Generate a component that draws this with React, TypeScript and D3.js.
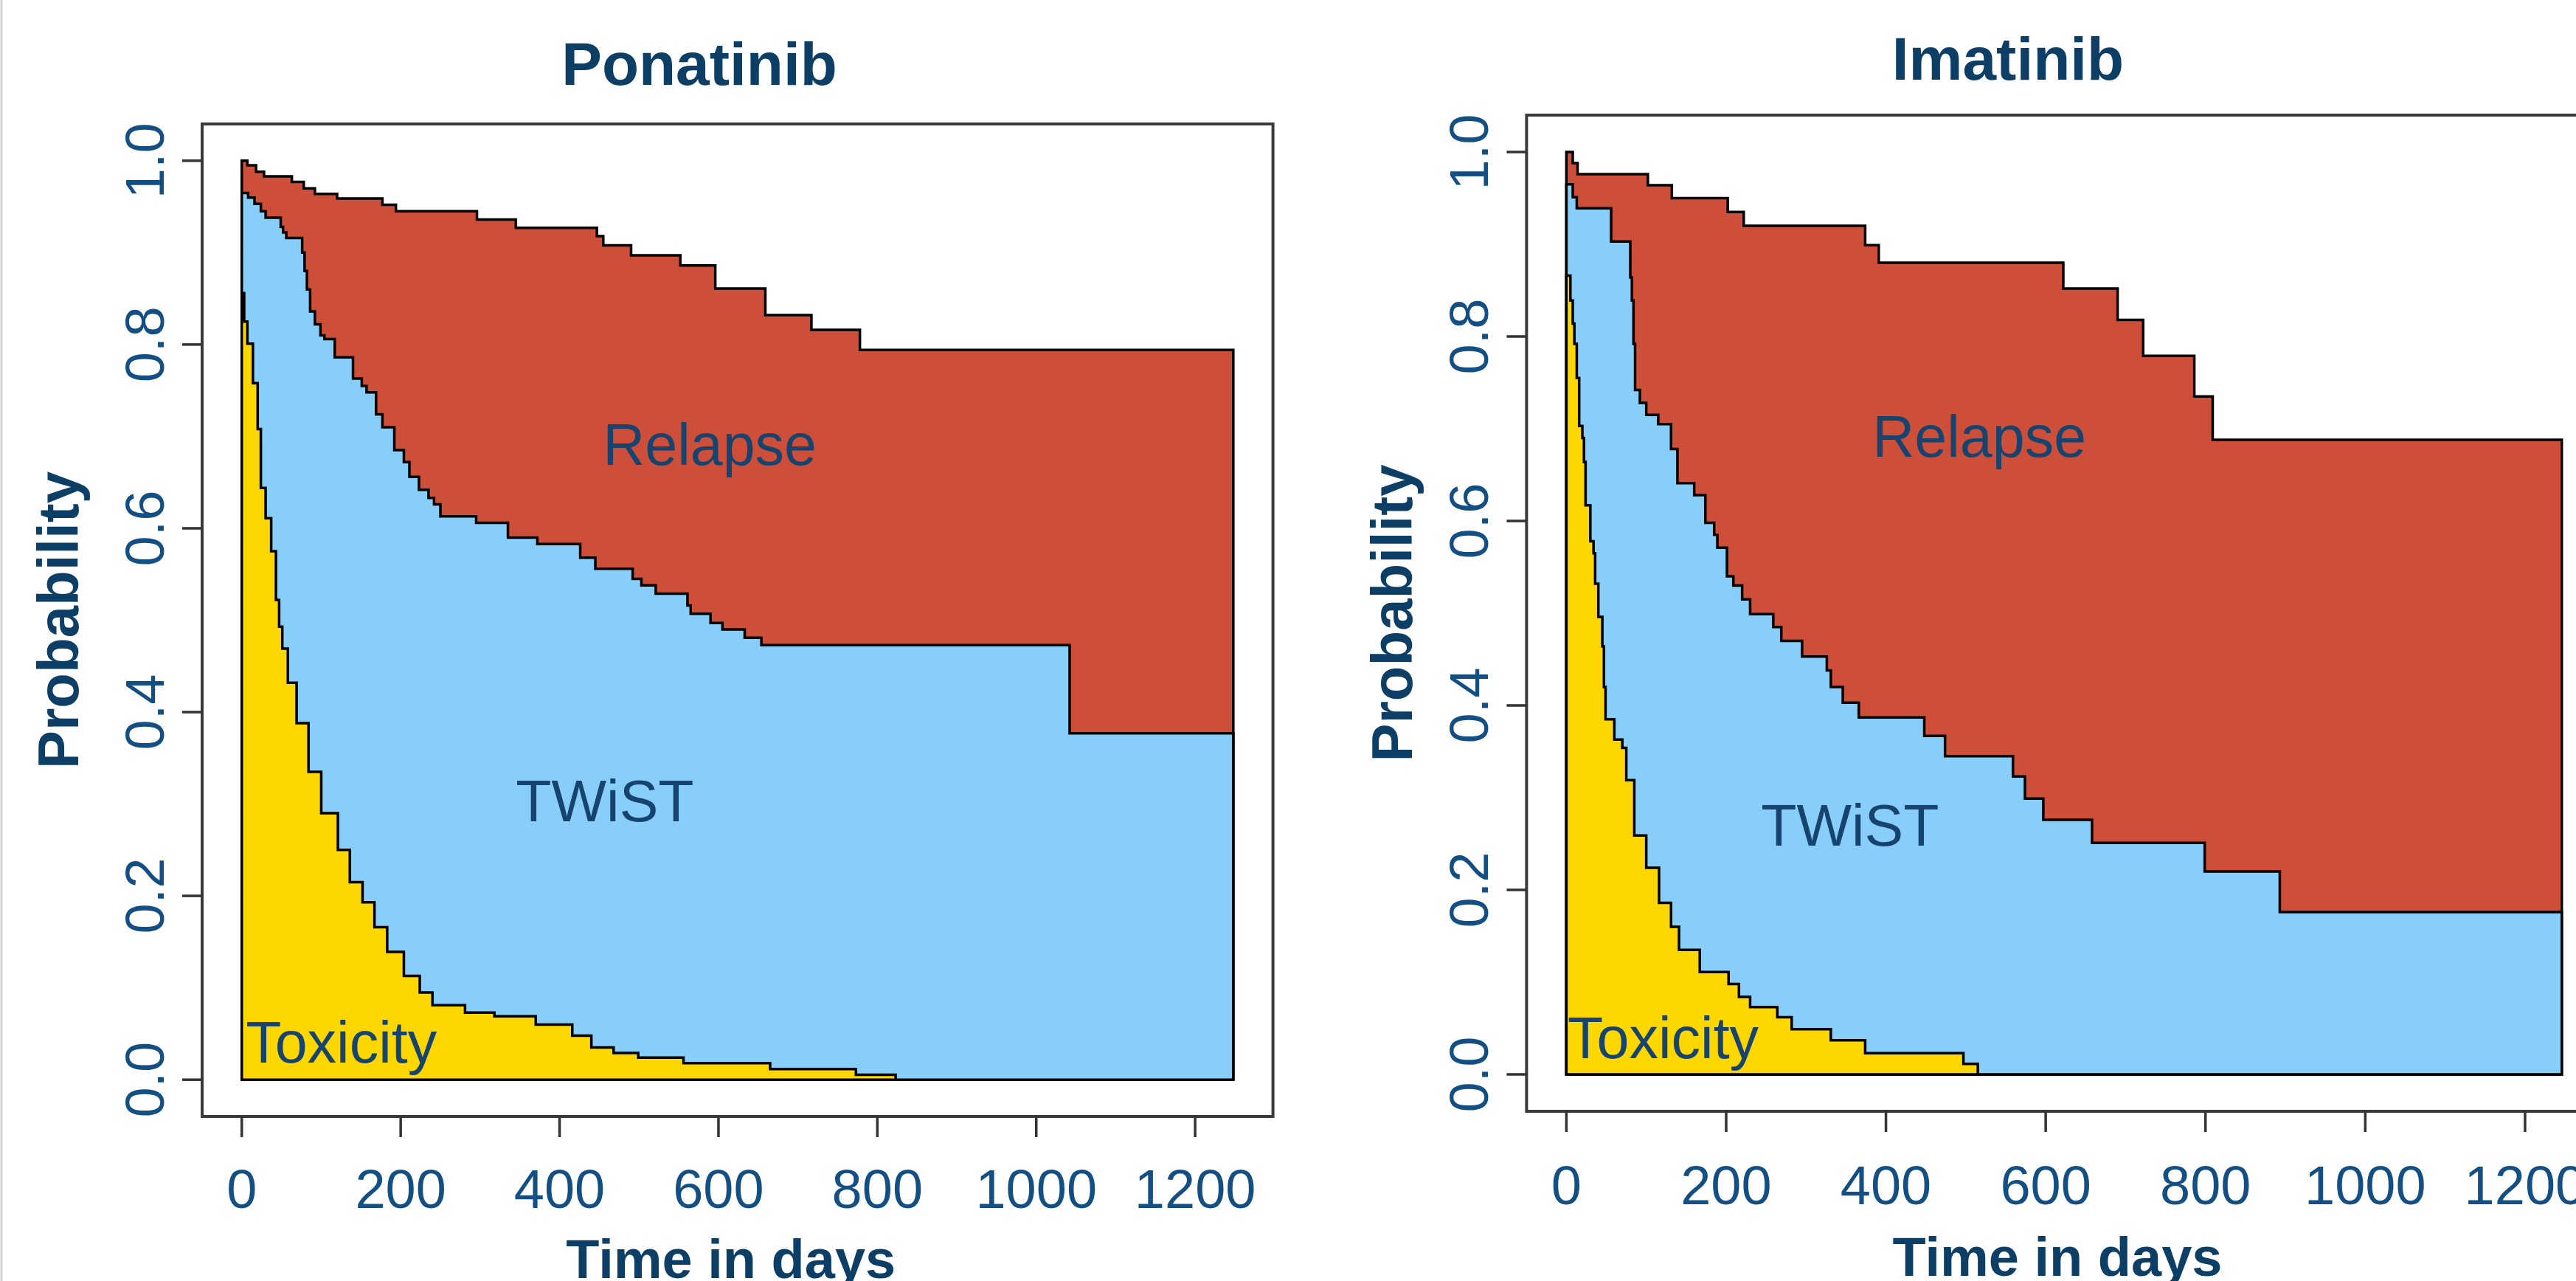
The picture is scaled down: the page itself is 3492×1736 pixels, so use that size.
import { useEffect, useRef } from "react";
import * as d3 from "d3";

type Pt = [number, number];

// axis ticks
const timeTicks = [0, 200, 400, 600, 800, 1000, 1200];
const probTicks = [0, 0.2, 0.4, 0.6, 0.8, 1.0];

// Ponatinib: upper curve (top of Relapse), TWiST boundary, Toxicity boundary
const ponatinibOverall: Pt[] = [
    [0, 1.0], [7, 0.995], [18, 0.988], [28, 0.983], [63, 0.977], [78, 0.97],
    [92, 0.964], [120, 0.959], [177, 0.952], [194, 0.945], [296, 0.936],
    [345, 0.927], [447, 0.918], [455, 0.908], [490, 0.897], [552, 0.886],
    [596, 0.861], [659, 0.832], [717, 0.816], [778, 0.794], [1248, 0.794],
];
const ponatinibTwist: Pt[] = [
    [0, 0.965], [8, 0.96], [16, 0.953], [24, 0.945], [30, 0.938], [49, 0.928],
    [52, 0.922], [56, 0.916], [76, 0.9], [79, 0.88], [82, 0.86], [86, 0.836],
    [92, 0.822], [99, 0.81], [104, 0.806], [117, 0.786], [140, 0.763],
    [151, 0.755], [157, 0.748], [169, 0.724], [177, 0.71], [192, 0.685],
    [204, 0.672], [211, 0.656], [223, 0.642], [235, 0.633], [242, 0.626],
    [250, 0.613], [295, 0.606], [335, 0.59], [372, 0.583], [426, 0.568],
    [445, 0.556], [492, 0.545], [503, 0.538], [521, 0.529], [561, 0.516],
    [565, 0.507], [590, 0.497], [605, 0.49], [633, 0.481], [654, 0.473],
    [1042, 0.377], [1248, 0.377],
];
const ponatinibToxicity: Pt[] = [
    [0, 0.856], [3, 0.825], [7, 0.801], [14, 0.758], [20, 0.708], [24, 0.644],
    [30, 0.611], [37, 0.575], [43, 0.522], [47, 0.493], [51, 0.469],
    [58, 0.432], [69, 0.388], [84, 0.335], [100, 0.29], [121, 0.25],
    [136, 0.215], [152, 0.193], [167, 0.166], [183, 0.139], [204, 0.113],
    [224, 0.095], [240, 0.081], [281, 0.073], [318, 0.069], [370, 0.06],
    [416, 0.048], [440, 0.035], [468, 0.029], [499, 0.024], [556, 0.018],
    [665, 0.0115], [773, 0.0053], [823, 0],
];

// Imatinib
const imatinibOverall: Pt[] = [
    [0, 1.0], [8, 0.988], [14, 0.976], [102, 0.964], [132, 0.95], [202, 0.935],
    [222, 0.92], [374, 0.899], [391, 0.88], [622, 0.852], [690, 0.818],
    [722, 0.779], [786, 0.735], [809, 0.688], [1246, 0.688],
];
const imatinibTwist: Pt[] = [
    [0, 0.965], [8, 0.951], [13, 0.939], [56, 0.903], [80, 0.864], [82, 0.839],
    [84, 0.792], [86, 0.742], [92, 0.728], [100, 0.715], [115, 0.705],
    [131, 0.678], [139, 0.641], [160, 0.628], [174, 0.598], [185, 0.585],
    [189, 0.571], [201, 0.54], [209, 0.53], [220, 0.515], [230, 0.499],
    [259, 0.485], [269, 0.47], [295, 0.453], [326, 0.438], [331, 0.42],
    [346, 0.403], [366, 0.387], [448, 0.367], [474, 0.345], [559, 0.323],
    [574, 0.299], [597, 0.276], [658, 0.251], [799, 0.22], [893, 0.176],
    [1246, 0.176],
];
const imatinibToxicity: Pt[] = [
    [0, 0.866], [5, 0.839], [8, 0.814], [10, 0.792], [13, 0.755], [16, 0.703],
    [20, 0.69], [22, 0.664], [24, 0.617], [30, 0.578], [34, 0.565],
    [36, 0.532], [40, 0.496], [45, 0.464], [47, 0.42], [49, 0.385],
    [60, 0.363], [70, 0.354], [75, 0.319], [85, 0.259], [100, 0.224],
    [116, 0.186], [131, 0.16], [141, 0.135], [167, 0.111], [203, 0.098],
    [216, 0.084], [230, 0.073], [264, 0.062], [282, 0.049], [331, 0.037],
    [374, 0.023], [497, 0.0115], [515, 0],
];

const FONT = "'Liberation Sans', Arial, Helvetica, sans-serif";
const RELAPSE = "#CD4F39";
const TWIST = "#87CEFA";
const TOX = "#FFD700";
const TICK_TEXT = "#134f82";
const LABEL_TEXT = "#0d3f66";
const AREA_TEXT = "#17446f";

const panels = [
    {
        title: "Ponatinib",
        maxTime: 1248,
        overall: ponatinibOverall,
        twist: ponatinibTwist,
        toxicity: ponatinibToxicity,
        box: { left: 274, right: 1725.6, top: 168, bottom: 1513 },
        titleX: 948,
        titleY: 115,
        tickLabelY: 1637,
        xTitleY: 1732,
        yTitleX: 106,
        relapseAt: [589, 0.669],
        twistAt: [457, 0.281],
        toxAt: [5, 0.019],
    },
    {
        title: "Imatinib",
        maxTime: 1246,
        overall: imatinibOverall,
        twist: imatinibTwist,
        toxicity: imatinibToxicity,
        box: { left: 2069.4, right: 3526.7, top: 156, bottom: 1506 },
        titleX: 2722,
        titleY: 108,
        tickLabelY: 1632,
        xTitleY: 1729,
        yTitleX: 1914,
        relapseAt: [517, 0.67],
        twistAt: [355, 0.248],
        toxAt: [1.6, 0.018],
    },
];

export default function App() {
    const svgRef = useRef<SVGSVGElement | null>(null);

    useEffect(() => {
        const svg = d3.select(svgRef.current);
        svg.selectAll("*").remove();

        svg.append("line")
            .attr("x1", 2).attr("x2", 2)
            .attr("y1", 0).attr("y2", 1736)
            .attr("stroke", "#d4d4d4")
            .attr("stroke-width", 3);

        panels.forEach((panel) => {
            const { box } = panel;
            const x = d3
                .scaleLinear()
                .domain([-0.04 * panel.maxTime, 1.04 * panel.maxTime])
                .range([box.left, box.right]);
            const y = d3
                .scaleLinear()
                .domain([-0.04, 1.04])
                .range([box.bottom, box.top]);

            const g = svg.append("g");

            const area = d3
                .area<Pt>()
                .x((d) => x(d[0]))
                .y0(y(0))
                .y1((d) => y(d[1]))
                .curve(d3.curveStepAfter);

            [
                { data: panel.overall, fill: RELAPSE },
                { data: panel.twist, fill: TWIST },
                { data: panel.toxicity, fill: TOX },
            ].forEach((layer) => {
                g.append("path")
                    .attr("d", area(layer.data) || "")
                    .attr("fill", layer.fill)
                    .attr("stroke", "#000")
                    .attr("stroke-width", 3.5)
                    .attr("stroke-linejoin", "miter");
            });

            // box
            g.append("rect")
                .attr("x", box.left)
                .attr("y", box.top)
                .attr("width", box.right - box.left)
                .attr("height", box.bottom - box.top)
                .attr("fill", "none")
                .attr("stroke", "#3a3a3a")
                .attr("stroke-width", 4);

            // x axis ticks
            g.selectAll(".xtick")
                .data(timeTicks)
                .join("line")
                .attr("x1", (d) => x(d))
                .attr("x2", (d) => x(d))
                .attr("y1", box.bottom)
                .attr("y2", box.bottom + 28)
                .attr("stroke", "#333")
                .attr("stroke-width", 3.5);

            g.selectAll(".xlab")
                .data(timeTicks)
                .join("text")
                .attr("x", (d) => x(d))
                .attr("y", panel.tickLabelY)
                .attr("text-anchor", "middle")
                .attr("font-family", FONT)
                .attr("font-size", 74)
                .attr("fill", TICK_TEXT)
                .text((d) => String(d));

            // y axis ticks
            g.selectAll(".ytick")
                .data(probTicks)
                .join("line")
                .attr("x1", box.left - 27)
                .attr("x2", box.left)
                .attr("y1", (d) => y(d))
                .attr("y2", (d) => y(d))
                .attr("stroke", "#333")
                .attr("stroke-width", 3.5);

            g.selectAll(".ylab")
                .data(probTicks)
                .join("text")
                .attr(
                    "transform",
                    (d) => `translate(${box.left - 52}, ${y(d)}) rotate(-90)`
                )
                .attr("text-anchor", "middle")
                .attr("font-family", FONT)
                .attr("font-size", 74)
                .attr("fill", TICK_TEXT)
                .text((d) => d.toFixed(1));

            // titles
            g.append("text")
                .attr("x", panel.titleX)
                .attr("y", panel.titleY)
                .attr("text-anchor", "middle")
                .attr("font-family", FONT)
                .attr("font-weight", "bold")
                .attr("font-size", 82)
                .attr("fill", LABEL_TEXT)
                .text(panel.title);

            g.append("text")
                .attr("x", (box.left + box.right) / 2 - 9)
                .attr("y", panel.xTitleY)
                .attr("text-anchor", "middle")
                .attr("font-family", FONT)
                .attr("font-weight", "bold")
                .attr("font-size", 74)
                .attr("fill", LABEL_TEXT)
                .text("Time in days");

            g.append("text")
                .attr(
                    "transform",
                    `translate(${panel.yTitleX}, ${(box.top + box.bottom) / 2}) rotate(-90)`
                )
                .attr("text-anchor", "middle")
                .attr("font-family", FONT)
                .attr("font-weight", "bold")
                .attr("font-size", 78)
                .attr("fill", LABEL_TEXT)
                .text("Probability");

            // region labels
            [
                { at: panel.relapseAt, text: "Relapse", anchor: "middle" },
                { at: panel.twistAt, text: "TWiST", anchor: "middle" },
                { at: panel.toxAt, text: "Toxicity", anchor: "start" },
            ].forEach((lab) => {
                g.append("text")
                    .attr("x", x(lab.at[0]))
                    .attr("y", y(lab.at[1]))
                    .attr("text-anchor", lab.anchor)
                    .attr("font-family", FONT)
                    .attr("font-size", 79)
                    .attr("fill", AREA_TEXT)
                    .text(lab.text);
            });
        });
    }, []);

    return (
        <svg
            ref={svgRef}
            width={3492}
            height={1736}
            style={{
                position: "absolute",
                left: 0,
                top: 0,
                background: "#fff",
                display: "block",
            }}
        />
    );
}
